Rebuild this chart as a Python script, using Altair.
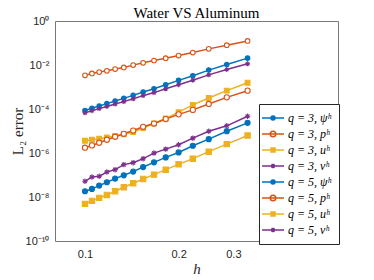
import altair as alt
import pandas as pd

# mesh size h (x) -- 15 refinements
h = [0.1, 0.1053, 0.1111, 0.1176, 0.125, 0.1333, 0.1429, 0.1538,
     0.1667, 0.1818, 0.2, 0.2222, 0.25, 0.2857, 0.3333]

labels = ["q = 3, ψʰ", "q = 3, pʰ", "q = 3, uʰ", "q = 3, vʰ",
          "q = 5, ψʰ", "q = 5, pʰ", "q = 5, uʰ", "q = 5, vʰ"]

q3_psi = [8.5e-5, 1.08e-4, 1.38e-4, 1.75e-4, 2.33e-4, 3.05e-4, 4.17e-4, 5.94e-4,
          8.38e-4, 1.27e-3, 2.0e-3, 3.24e-3, 5.87e-3, 1.05e-2, 2.05e-2]
q3_p = [3.4e-3, 4.12e-3, 4.78e-3, 5.47e-3, 6.52e-3, 7.71e-3, 9.89e-3, 1.26e-2,
        1.6e-2, 2.05e-2, 2.69e-2, 3.68e-2, 5.41e-2, 7.94e-2, 1.24e-1]
q3_u = [3.61e-6, 4.0e-6, 4.44e-6, 5.08e-6, 5.94e-6, 7.16e-6, 9.02e-6, 1.37e-5,
        2.18e-5, 3.68e-5, 7.24e-5, 1.53e-4, 3.18e-4, 6.81e-4, 1.57e-3]
q3_v = [6.67e-5, 8.32e-5, 1.04e-4, 1.3e-4, 1.68e-4, 2.16e-4, 2.9e-4, 4.04e-4,
        5.57e-4, 8.3e-4, 1.27e-3, 2.03e-3, 3.56e-3, 6.25e-3, 1.13e-2]
q5_psi = [1.83e-8, 2.33e-8, 3.31e-8, 4.68e-8, 6.87e-8, 9.68e-8, 1.43e-7, 2.3e-7,
          3.76e-7, 6.32e-7, 1.06e-6, 2.14e-6, 4.26e-6, 9.79e-6, 2.35e-5]
q5_p = [1.74e-6, 2.21e-6, 2.92e-6, 4.0e-6, 5.47e-6, 7.46e-6, 1.05e-5, 1.55e-5,
        2.18e-5, 3.49e-5, 5.7e-5, 9.1e-5, 1.7e-4, 3.39e-4, 6.81e-4]
q5_u = [4.88e-9, 6.67e-9, 9.1e-9, 1.24e-8, 1.83e-8, 2.77e-8, 4.21e-8, 6.59e-8,
        1.04e-7, 1.75e-7, 3.05e-7, 5.52e-7, 1.15e-6, 2.53e-6, 6.25e-6]
q5_v = [5.19e-8, 8.13e-8, 8.73e-8, 1.37e-7, 1.75e-7, 2.96e-7, 3.64e-7, 5.52e-7,
        9.89e-7, 1.5e-6, 2.38e-6, 4.72e-6, 9.79e-6, 1.72e-5, 4.68e-5]

series = [q3_psi, q3_p, q3_u, q3_v, q5_psi, q5_p, q5_u, q5_v]

y_ticks = [1e-10, 1e-8, 1e-6, 1e-4, 1e-2, 1]
x_ticks = [0.1, 0.2, 0.3]

colors = ["#0072BD", "#D95319", "#EDB120", "#7E2F8E"] * 2
fills = ["#0072BD", "white", "#EDB120", "#7E2F8E"] * 2
ASTER = "M-1,0H1M0,-1V1M-0.7,-0.7L0.7,0.7M-0.7,0.7L0.7,-0.7"
shapes = ["circle", "circle", "square", ASTER] * 2
sizes = [20, 30, 20, 18] * 2

LINE = "M-2.2,0H2.2"
DISC = ("M0.4,0A0.4,0.4 0 1 1 -0.4,0A0.4,0.4 0 1 1 0.4,0"
        "M0.15,0A0.15,0.15 0 1 1 -0.15,0A0.15,0.15 0 1 1 0.15,0")
RING = "M0.55,0A0.55,0.55 0 1 1 -0.55,0A0.55,0.55 0 1 1 0.55,0"
SQ = "M-0.4,-0.4H0.4V0.4H-0.4ZM-0.13,-0.13H0.13V0.13H-0.13Z"
AST = "M-0.45,0H0.45M0,-0.45V0.45M-0.32,-0.32L0.32,0.32M-0.32,0.32L0.32,-0.32"
legend_shapes = [LINE + DISC, LINE + RING, LINE + SQ, LINE + AST] * 2

rows = []
for lab, vals in zip(labels, series):
    for hv, ev in zip(h, vals):
        rows.append({"series": lab, "h": hv, "err": ev})
df = pd.DataFrame(rows)

sup = {0: "⁰", -2: "⁻²", -4: "⁻⁴", -6: "⁻⁶", -8: "⁻⁸", -10: "⁻¹⁰"}
expr = "'10' + ("
for k, v in sup.items():
    expr += f"round(log(datum.value)/LN10) == {k} ? '{v}' : "
expr += "'')"

xscale = alt.Scale(type="log", domain=[0.0801, 0.651], nice=False)
yscale = alt.Scale(type="log", domain=[1e-10, 1], nice=False)

xenc = alt.X("h:Q", scale=xscale, title="h",
             axis=alt.Axis(values=x_ticks, labelExpr="format(datum.value, '.1f')",
                           ticks=False, domain=False, grid=False,
                           labelFont="Liberation Sans", labelFontSize=11,
                           labelColor="#262626", labelPadding=7,
                           titleFont="Liberation Serif", titleFontStyle="italic",
                           titleFontSize=15, titleFontWeight="normal",
                           titleColor="#262626", titlePadding=2))
yenc = alt.Y("err:Q", scale=yscale, title="L₂ error",
             axis=alt.Axis(values=y_ticks, labelExpr=expr,
                           ticks=False, domain=False, grid=False,
                           labelFont="Liberation Sans", labelFontSize=11,
                           labelColor="#262626", labelPadding=6,
                           titleFont="Liberation Serif",
                           titleFontSize=15, titleFontWeight="normal",
                           titleColor="#262626", titlePadding=0))

lines = alt.Chart(df).mark_line(strokeWidth=1.5).encode(
    x=xenc, y=yenc,
    color=alt.Color("series:N", scale=alt.Scale(domain=labels, range=colors), legend=None),
    order=alt.Order("h:Q"),
)

points = alt.Chart(df).mark_point(filled=True, strokeWidth=1.1, opacity=1).encode(
    x=xenc, y=yenc,
    fill=alt.Fill("series:N", scale=alt.Scale(domain=labels, range=fills), legend=None),
    stroke=alt.Stroke("series:N", scale=alt.Scale(domain=labels, range=colors), legend=None),
    shape=alt.Shape("series:N", scale=alt.Scale(domain=labels, range=shapes), legend=None),
    size=alt.Size("series:N", scale=alt.Scale(domain=labels, range=sizes), legend=None),
)

leg = alt.Legend(title=None, orient="none", legendX=204, legendY=83,
                 fillColor="white", strokeColor="#262626", padding=8,
                 labelFont="Liberation Serif", labelFontStyle="italic",
                 labelFontSize=12, labelColor="black", labelOffset=9,
                 symbolSize=100, symbolStrokeWidth=1.5, symbolOpacity=1,
                 rowPadding=4, labelLimit=200)

legend_layer = alt.Chart(df).mark_point(filled=False, opacity=0).encode(
    x=xenc, y=yenc,
    color=alt.Color("series:N", scale=alt.Scale(domain=labels, range=colors), legend=leg),
    shape=alt.Shape("series:N", scale=alt.Scale(domain=labels, range=legend_shapes), legend=leg),
)

chart = alt.layer(lines, points, legend_layer).resolve_scale(
    color="independent", shape="independent"
).properties(
    width=283, height=220,
    title=alt.TitleParams("Water VS Aluminum", font="Liberation Serif", fontSize=15,
                          fontWeight="normal", color="black", anchor="middle",
                          frame="group", offset=3, dy=9),
    autosize=alt.AutoSizeParams(type="none"),
    padding={"left": 47, "top": 13, "right": 20, "bottom": 37},
).configure_view(stroke="#777777", strokeWidth=1)

chart.save("out.html", embed_options={"renderer": "svg", "actions": False})
